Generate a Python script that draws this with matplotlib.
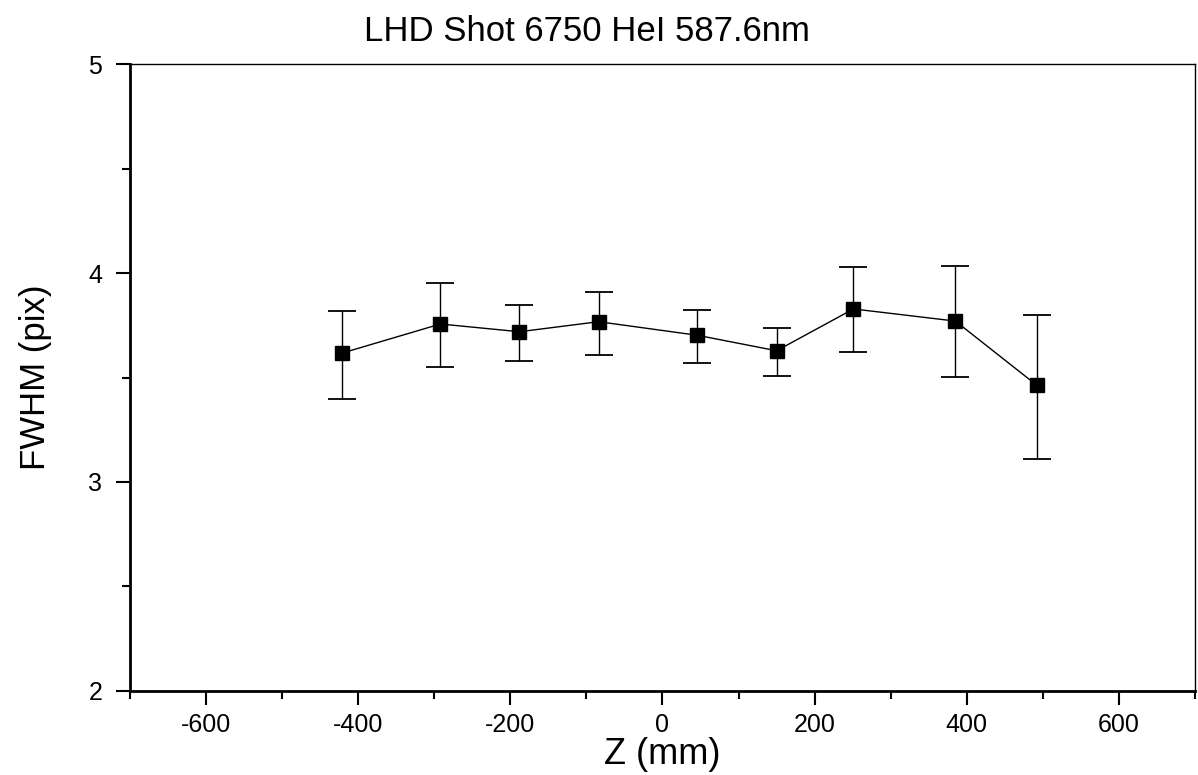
import matplotlib.pyplot as plt
from matplotlib.ticker import MultipleLocator

plt.rcParams['font.family'] = ['Liberation Sans', 'DejaVu Sans']
plt.rcParams['axes.unicode_minus'] = False

# data
z_mm = [-421, -292, -188, -84, 46, 150, 251, 385, 492]
fwhm = [3.617, 3.756, 3.719, 3.767, 3.702, 3.628, 3.828, 3.770, 3.463]
err_lo = [0.220, 0.207, 0.139, 0.157, 0.134, 0.121, 0.208, 0.268, 0.353]
err_hi = [0.203, 0.196, 0.129, 0.144, 0.123, 0.107, 0.199, 0.262, 0.337]

fig = plt.figure(figsize=(11.98, 7.75), dpi=100)
ax = fig.add_axes([0.1085, 0.1084, 0.889, 0.809])

ax.errorbar(z_mm, fwhm, yerr=[err_lo, err_hi], fmt='s-', color='black',
            markersize=10, linewidth=1.0, elinewidth=1.0,
            capsize=10, capthick=1.3)

ax.set_xlim(-700, 700)
ax.set_ylim(2, 5)
ax.xaxis.set_major_locator(MultipleLocator(200))
ax.xaxis.set_minor_locator(MultipleLocator(100))
ax.yaxis.set_major_locator(MultipleLocator(1))
ax.yaxis.set_minor_locator(MultipleLocator(0.5))

ax.tick_params(which='major', direction='out', length=10, width=1.5,
               labelsize=18)
ax.tick_params(which='minor', direction='out', length=6, width=1.5)
ax.tick_params(axis='x', which='major', pad=6)
ax.tick_params(axis='y', which='major', pad=10)

for s in ['left', 'bottom']:
    ax.spines[s].set_linewidth(2)
for s in ['top', 'right']:
    ax.spines[s].set_linewidth(1)

fig.text(0.49, 0.947, 'LHD Shot 6750 HeI 587.6nm', fontsize=25,
         ha='center', va='baseline')
ax.set_xlabel('Z (mm)', fontsize=26, labelpad=0)
ax.set_ylabel('FWHM (pix)', fontsize=25, labelpad=26)

fig.savefig('out.png', dpi=100)
